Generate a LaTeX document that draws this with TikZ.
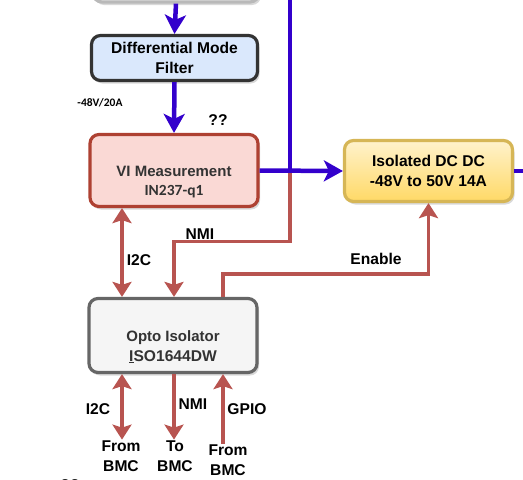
\documentclass[tikz,border=0pt]{standalone}
\usepackage{fontspec}
\setmainfont{Liberation Sans}
\newfontfamily\calib{Carlito}
\usepackage{xcolor}
\usetikzlibrary{positioning,arrows.meta,calc,shadows}

\definecolor{pwrblue}{HTML}{3300CC}
\definecolor{sigred}{HTML}{B85450}
\definecolor{dmfblue}{HTML}{DAE8FC}
\definecolor{vired}{HTML}{AE4132}
\definecolor{vipink}{HTML}{FAD9D5}
\definecolor{isogold}{HTML}{D6B656}
\definecolor{isotop}{HTML}{FFF2CC}
\definecolor{isobot}{HTML}{FFD966}
\definecolor{txtgray}{HTML}{333333}

\begin{document}
\begin{tikzpicture}[
        x=1pt, y=-1pt,
        font=\fontsize{15.6}{19.5}\selectfont\bfseries,
        box/.style={draw, line width=3.2pt, rounded corners=9pt, minimum width=166pt,
                    align=center, text=black,
                    drop shadow={shadow xshift=2pt, shadow yshift=-3pt, opacity=0.3}},
        boxtxt/.style={align=center, text=txtgray, inner sep=1pt},
        lbl/.style={align=center, inner sep=1pt},
        sigtip/.tip={Stealth[length=15pt, width=19pt, inset=3pt]},
        pwrtip/.tip={Stealth[length=19pt, width=21pt, inset=5pt]},
        pwr/.style={pwrblue, line width=4.5pt},
        sig/.style={sigred, line width=3.6pt}
    ]
    \useasboundingbox (0,0) rectangle (523,480);

    % Boxes
    \node[box, draw=gray!55, fill=black!4, minimum height=44pt] (src) at (176,-20) {};
    \node[box, draw=black!80, fill=dmfblue, minimum height=45pt] (dmf) at (174.5,58) {Differential Mode\\Filter};
    \node[box, draw=vired, fill=vipink, minimum width=168pt, minimum height=72pt] (vi) at (174,170.5) {};
    \node[boxtxt] (vitxt) at (174,182) {\fontsize{15}{19}\selectfont VI Measurement\\{\calib\fontsize{15.5}{19}\selectfont IN237-q1}};
    \node[box, draw=isogold, top color=isotop, bottom color=isobot, minimum width=168pt, minimum height=61pt] (iso) at (428.5,171) {Isolated DC DC\\-48V to 50V 14A};
    \node[box, draw=black!60, fill=black!4, minimum width=168pt, minimum height=74pt] (opto) at (173,335.5) {};
    \node[boxtxt] (optotxt) at (173,347) {\fontsize{15}{19}\selectfont Opto Isolator\\\underline{I}SO1644DW};

    % Labels
    \node[lbl] (vrate) at (100,103) {\calib\fontsize{11.5}{13}\selectfont -48V/20A};
    \node[lbl] (qmark) at (218,120) {??};
    \node[lbl] (qmarkb) at (70,485) {??};
    \node[lbl] (nmitop) at (200,234) {NMI};
    \node[lbl] (i2ctop) at (139,260) {I2C};
    \node[lbl] (enable) at (376,259) {Enable};
    \node[lbl] (i2cbot) at (98,409) {I2C};
    \node[lbl] (nmibot) at (193,404) {NMI};
    \node[lbl] (gpiobot) at (247,409) {GPIO};
    \node[lbl] (bmca) at (121,456) {From\\BMC};
    \node[lbl] (bmcb) at (175,456) {To\\BMC};
    \node[lbl] (bmcc) at (228,460) {From\\BMC};

    % Columns and bus points
    \coordinate (colA) at (122,0);
    \coordinate (colB) at (174,0);
    \coordinate (colC) at (223,0);
    \coordinate (bustop) at (290,-5);
    \coordinate (bus) at (vi.east -| bustop);
    \coordinate (outr) at (530,171);

    % Signals (red)
    \draw[sig, -{sigtip}] (bus) -- ++(0,71) -| (colB |- opto.north);
    \draw[sig, {sigtip}-{sigtip}] (colA |- vi.south) -- (colA |- opto.north);
    \draw[sig, -{sigtip}] (colC |- opto.north) -- ++(0,-23) -| (iso.south);
    \draw[sig, {sigtip}-{sigtip}] (colA |- opto.south) -- (colA |- bmca.north);
    \draw[sig, -{sigtip}] (colB |- opto.south) -- (colB |- bmcb.north);
    \draw[sig, -{sigtip}] (colC |- bmcc.north) -- (colC |- opto.south);

    % Power path (blue)
    \draw[pwr, -{pwrtip}] (src.south) -- (dmf.north);
    \draw[pwr, -{pwrtip}] (dmf.south) -- (vi.north);
    \draw[pwr] (bustop) -- (bus);
    \draw[pwr, -{pwrtip}] (vi.east) -- (iso.west);
    \draw[pwr] (iso.east) -- (outr);
\end{tikzpicture}
\end{document}
